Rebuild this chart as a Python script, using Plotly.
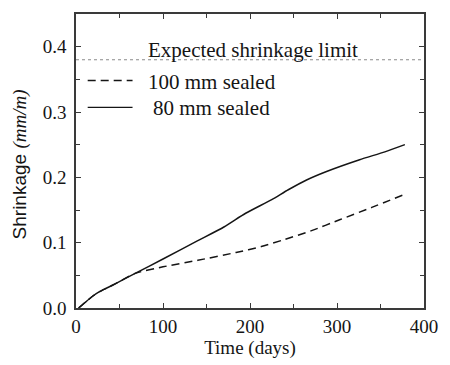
import plotly.graph_objects as go

# Shrinkage of sealed slabs over time (days -> mm/m)
days_80 = [3, 10, 19, 27, 36, 45, 68, 100, 140, 170, 195, 225, 244, 265, 288, 326, 355, 378]
shrink_80 = [0.0, 0.008, 0.018, 0.025, 0.031, 0.037, 0.053, 0.075, 0.103, 0.124, 0.145,
             0.166, 0.181, 0.196, 0.209, 0.227, 0.239, 0.250]

days_100 = [3, 10, 19, 27, 36, 45, 68, 100, 140, 184, 213, 240, 270, 303, 340, 378]
shrink_100 = [0.0, 0.008, 0.018, 0.025, 0.031, 0.037, 0.053, 0.063, 0.073, 0.085, 0.094,
              0.105, 0.118, 0.135, 0.154, 0.174]

limit_days = [0, 400]
limit_value = 0.38

x_ticks = [0, 100, 200, 300, 400]
y_ticks = [0.0, 0.1, 0.2, 0.3, 0.4]

INK = "#151515"
FRAME = "#3a3a3a"
SERIF = "Liberation Serif"

fig = go.Figure()
fig.add_trace(go.Scatter(x=limit_days, y=[limit_value, limit_value], mode="lines",
                         line=dict(color="#8a8a8a", width=1.2, dash="dot"),
                         showlegend=False, hoverinfo="skip"))
fig.add_trace(go.Scatter(x=days_100, y=shrink_100, mode="lines", name="100 mm sealed",
                         line=dict(color=INK, width=1.5, dash="8px,5px", shape="spline",
                                   smoothing=0.6),
                         showlegend=False))
fig.add_trace(go.Scatter(x=days_80, y=shrink_80, mode="lines", name="80 mm sealed",
                         line=dict(color=INK, width=1.5, shape="spline", smoothing=0.6),
                         showlegend=False))

L, R, T, B = 76, 17, 13, 56
W, H = 450, 365
pw, ph = W - L - R, H - T - B


def px(x):
    return (x - L) / pw


def py(y):
    return (H - B - y) / ph


axis_common = dict(
    showline=True, linecolor=FRAME, linewidth=1.5, mirror="ticks",
    ticks="inside", ticklen=5, tickwidth=1.2, tickcolor=FRAME,
    showgrid=False, zeroline=False,
    tickfont=dict(family=SERIF, size=19, color=INK),
)

fig.update_xaxes(range=[0, 400], tickvals=x_ticks,
                 minor=dict(dtick=50, ticks="inside", ticklen=4, tickcolor=FRAME,
                            showgrid=False),
                 title=dict(text="Time (days)", font=dict(family=SERIF, size=19, color=INK),
                            standoff=3),
                 **axis_common)
fig.update_yaxes(range=[0, 0.45], tickvals=y_ticks, tickformat=".1f",
                 ticklabelstandoff=4,
                 minor=dict(dtick=0.05, ticks="inside", ticklen=4, tickcolor=FRAME,
                            showgrid=False),
                 **axis_common)

# Key: line samples and labels
keys = [("100 mm sealed", "8px,5px", 80, 148),
        ("80 mm sealed", "solid", 107, 153)]
for label, dash, yk, xt in keys:
    fig.add_shape(type="line", xref="paper", yref="paper",
                  x0=px(88), x1=px(134), y0=py(yk), y1=py(yk),
                  line=dict(color=INK, width=1.4, dash=dash))
    fig.add_annotation(text=label, xref="paper", yref="paper",
                       x=px(xt), y=py(yk + 1), xanchor="left", yanchor="middle",
                       showarrow=False, font=dict(family=SERIF, size=21, color=INK))

fig.add_annotation(text="Expected shrinkage limit", xref="paper", yref="paper",
                   x=px(148), y=py(49), xanchor="left", yanchor="middle",
                   showarrow=False, font=dict(family=SERIF, size=21, color=INK))

# Y-axis title with sans label and italic serif unit
fig.add_annotation(
    text='Shrinkage <span style="font-family:Liberation Serif;font-style:italic">(mm/m)</span>',
    xref="paper", yref="paper", x=px(19), y=py(164), xanchor="center", yanchor="middle",
    textangle=-90, showarrow=False,
    font=dict(family="Liberation Sans", size=19, color=INK))

fig.update_layout(
    width=W, height=H,
    margin=dict(l=L, r=R, t=T, b=B),
    paper_bgcolor="white", plot_bgcolor="white",
    showlegend=False,
)

fig.write_html("out.html")
